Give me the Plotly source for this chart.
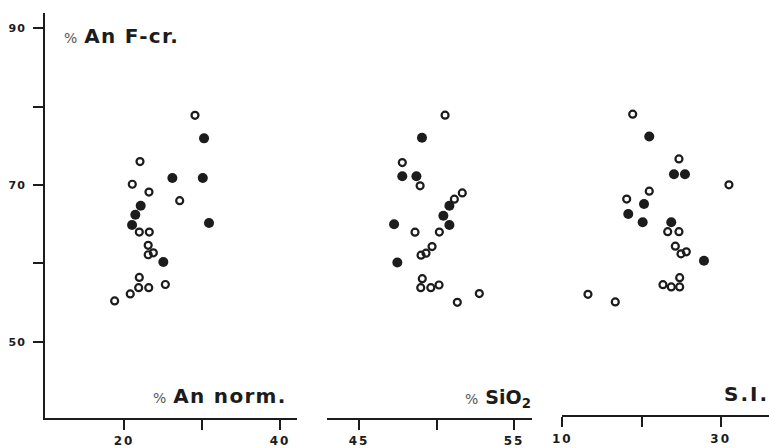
import plotly.graph_objects as go

# ---- data ----
# y: % An F-cr. ; open = open circles, fill = filled circles
an_norm_open_x = [29.1, 22.05, 21.06, 23.2, 27.14, 21.96, 23.24, 23.1, 23.1, 23.76, 21.96, 21.88, 23.17, 25.3, 20.8, 18.8]
an_norm_open_y = [78.9, 73.0, 70.1, 69.1, 68.0, 64.0, 64.0, 62.3, 61.1, 61.35, 58.2, 56.9, 56.9, 57.3, 56.1, 55.2]
an_norm_fill_x = [30.26, 26.2, 30.1, 22.14, 21.45, 21.03, 30.9, 25.04]
an_norm_fill_y = [75.96, 70.9, 70.9, 67.36, 66.2, 64.9, 65.16, 60.17]

sio2_open_x = [50.55, 47.79, 48.94, 51.66, 51.15, 48.61, 50.18, 49.71, 49.32, 49.0, 49.08, 48.98, 49.63, 50.16, 52.76, 51.34]
sio2_open_y = [78.92, 72.87, 69.9, 69.0, 68.2, 63.98, 64.0, 62.15, 61.3, 61.05, 58.04, 56.9, 56.9, 57.24, 56.14, 55.03]
sio2_fill_x = [49.06, 47.79, 48.7, 50.83, 50.44, 50.83, 47.26, 47.47]
sio2_fill_y = [76.05, 71.13, 71.13, 67.36, 66.09, 64.9, 64.99, 60.11]

si_open_x = [18.89, 24.73, 31.04, 20.98, 18.13, 23.31, 24.73, 24.27, 24.99, 25.66, 24.82, 22.71, 23.76, 24.82, 13.24, 16.69]
si_open_y = [79.05, 73.33, 70.03, 69.22, 68.21, 64.05, 64.05, 62.2, 61.22, 61.47, 58.17, 57.28, 56.99, 56.99, 56.05, 55.08]
si_fill_x = [20.98, 24.1, 25.49, 20.32, 18.33, 20.15, 23.76, 27.89]
si_fill_y = [76.21, 71.38, 71.38, 67.57, 66.3, 65.25, 65.25, 60.33]

y_tickvals = [50, 70, 90]
y_minor = [60, 80]
x1_tickvals = [20, 40]
x1_minor = [30]
x2_tickvals = [45, 55]
x2_minor = [50]
x3_tickvals = [10, 30]
x3_minor = [20]

INK = "#1c1c1c"
W, H = 769, 448
ML, MR, MT, MB = 45, 0, 13, 28
PW = W - ML - MR
PH = H - MT - MB


def px_x(p):
    return (p - ML) / PW


def px_y(p):
    return (H - MB - p) / PH


def spaced(vals, sp):
    return ['<span style="letter-spacing:%spx">%s</span>' % (sp, v) for v in vals]


fig = go.Figure()

panels = [
    ("x", an_norm_open_x, an_norm_open_y, an_norm_fill_x, an_norm_fill_y),
    ("x2", sio2_open_x, sio2_open_y, sio2_fill_x, sio2_fill_y),
    ("x3", si_open_x, si_open_y, si_fill_x, si_fill_y),
]
for xa, ox, oy, fx, fy in panels:
    fig.add_trace(go.Scatter(
        x=ox, y=oy, xaxis=xa, yaxis="y", mode="markers",
        marker=dict(symbol="circle-open", size=7, color=INK, line=dict(width=2.2, color=INK)),
        showlegend=False, hoverinfo="skip"))
    fig.add_trace(go.Scatter(
        x=fx, y=fy, xaxis=xa, yaxis="y", mode="markers",
        marker=dict(symbol="circle", size=10, color=INK, line=dict(width=0)),
        showlegend=False, hoverinfo="skip"))

tickfont = dict(family="DejaVu Sans", size=12, color=INK, weight="bold")
common_x = dict(showline=True, linewidth=2, linecolor=INK, ticks="outside", ticklen=10,
                tickwidth=2, tickcolor=INK, showgrid=False, zeroline=False,
                tickfont=tickfont, tickmode="array", fixedrange=True, ticklabelstandoff=1)


def minor(vals):
    return dict(tickmode="array", tickvals=vals, ticks="outside", ticklen=10,
                tickwidth=2, tickcolor=INK, showgrid=False)


fig.update_layout(
    width=W, height=H,
    margin=dict(l=ML, r=MR, t=MT, b=MB),
    paper_bgcolor="white", plot_bgcolor="white",
    xaxis=dict(common_x, domain=[0, px_x(296.7)], range=[9.87, 42.14],
               tickvals=x1_tickvals, ticktext=spaced(x1_tickvals, 2), anchor="y",
               minor=minor(x1_minor)),
    xaxis2=dict(common_x, domain=[px_x(327.3), px_x(531.7)], range=[42.95, 56.14],
                tickvals=x2_tickvals, ticktext=spaced(x2_tickvals, 2), anchor="y",
                minor=minor(x2_minor)),
    xaxis3=dict(common_x, domain=[px_x(562.3), 1.0], range=[10, 36.1],
                tickvals=x3_tickvals, ticktext=spaced(x3_tickvals, 2), anchor="free",
                position=px_y(418.3), minor=minor(x3_minor)),
    yaxis=dict(showline=True, linewidth=2, linecolor=INK, ticks="outside", ticklen=10,
               tickwidth=2, tickcolor=INK, showgrid=False, zeroline=False,
               tickfont=dict(family="DejaVu Sans", size=11, color=INK, weight="bold"),
               tickmode="array", tickvals=y_tickvals, ticktext=spaced(y_tickvals, 1),
               range=[40.254, 40.254 + PH / 7.87], domain=[0, 1], anchor="x",
               fixedrange=True, ticklabelstandoff=5, minor=minor(y_minor)),
)

pct = '<span style="font-size:14px;font-weight:normal;letter-spacing:0px;color:#555">%</span>'
label_font = dict(family="DejaVu Sans", size=20, color=INK, weight="bold")
annos = [
    (pct + ' <span style="letter-spacing:1.3px">An F-cr.</span>', px_x(61.7), px_y(36), "left"),
    (pct + ' <span style="letter-spacing:1.3px">An norm.</span>', px_x(289), px_y(398), "right"),
    (pct + ' <span style="font-size:19px">SiO<sub>2</sub></span>', px_x(533), px_y(400), "right"),
    ('<span style="letter-spacing:2px">S.I.</span>', px_x(771), px_y(396), "right"),
]
for txt, ax, ay, anc in annos:
    fig.add_annotation(text=txt, x=ax, y=ay, xref="paper", yref="paper",
                       xanchor=anc, yanchor="middle", showarrow=False,
                       font=label_font)

fig.write_html("out.html")
